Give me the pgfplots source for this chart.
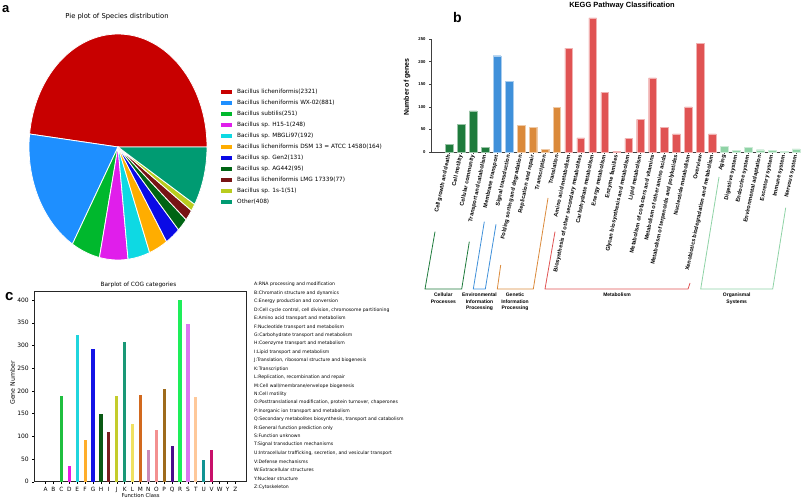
\documentclass[border=0pt]{standalone}
\usepackage{pgfplots}
\pgfplotsset{compat=1.18}
\usepackage{fontspec}
\setmainfont{DejaVu Sans}
\newfontfamily\arial{Liberation Sans}

\newcommand{\fsz}[1]{\fontsize{#1}{#1}\selectfont}

% pie colours
\definecolor{pRed}{HTML}{C80000}
\definecolor{pBlue}{HTML}{1E8FFF}
\definecolor{pGreen}{HTML}{00B82D}
\definecolor{pMag}{HTML}{E01EEB}
\definecolor{pCyan}{HTML}{0ED9E3}
\definecolor{pOrange}{HTML}{FFAD00}
\definecolor{pBlueB}{HTML}{0A0AE6}
\definecolor{pDkGreen}{HTML}{006414}
\definecolor{pMaroon}{HTML}{781414}
\definecolor{pYGreen}{HTML}{B9CC1E}
\definecolor{pOther}{HTML}{009B72}
% KEGG colours
\definecolor{kCell}{HTML}{1E7B3C}
\definecolor{kEnv}{HTML}{3F90DA}
\definecolor{kGen}{HTML}{DB8A3B}
\definecolor{kMet}{HTML}{E05353}
\definecolor{kOrg}{HTML}{8FD3A6}
% COG colours
\definecolor{cC}{HTML}{1FBF3F}
\definecolor{cD}{HTML}{E619E6}
\definecolor{cE}{HTML}{20D5DD}
\definecolor{cF}{HTML}{FFAE2A}
\definecolor{cG}{HTML}{1414E6}
\definecolor{cH}{HTML}{0A5A14}
\definecolor{cI}{HTML}{7A1E1E}
\definecolor{cJ}{HTML}{C4CC2C}
\definecolor{cK}{HTML}{1A9876}
\definecolor{cL}{HTML}{F0E160}
\definecolor{cM}{HTML}{D2691E}
\definecolor{cN}{HTML}{C98BB9}
\definecolor{cO}{HTML}{F39090}
\definecolor{cP}{HTML}{9E6B1D}
\definecolor{cQ}{HTML}{4B0A8C}
\definecolor{cR}{HTML}{1EEE5A}
\definecolor{cS}{HTML}{DC78F0}
\definecolor{cT}{HTML}{FEC89A}
\definecolor{cU}{HTML}{129494}
\definecolor{cV}{HTML}{C8106A}

\pgfplotsset{
  kbar/.style={ybar, bar width=0.64, bar shift=0pt, fill=#1, draw=#1!45!white, line width=0.4pt},
  cbar/.style={ybar, bar width=0.4, bar shift=0pt, fill=#1, draw=none},
}

\begin{document}
\begin{tikzpicture}
\path[use as bounding box] (0,0) rectangle (802pt,-500pt);

%% ---------- a: pie ----------
\begin{scope}[shift={(118pt,-147pt)}]
\def\cum{0}
\foreach \v/\c in {2321/pRed,881/pBlue,251/pGreen,248/pMag,192/pCyan,164/pOrange,131/pBlueB,95/pDkGreen,77/pMaroon,51/pYGreen,408/pOther}{
  \pgfmathsetmacro\a{\cum/4819*360}
  \pgfmathsetmacro\newcum{\cum+\v}
  \pgfmathsetmacro\b{\newcum/4819*360}
  \filldraw[fill=\c, draw=white, line width=0.8pt, line join=round]
    (0,0) -- (\a:89pt and 113pt) arc[start angle=\a, end angle=\b, x radius=89pt, y radius=113pt] -- cycle;
  \global\let\cum\newcum
}
\end{scope}

\begin{scope}[x=1pt,y=-1pt]
\node[anchor=base west, inner sep=0, font=\arial\bfseries\fsz{13}] at (2,13) {a};
\node[font=\fsz{6.8}] at (117,17) {Pie plot of Species distribution};
\foreach \c/\t [count=\i from 0] in {pRed/{Bacillus licheniformis(2321)},
  pBlue/{Bacillus licheniformis WX-02(881)},
  pGreen/{Bacillus subtilis(251)},
  pMag/{Bacillus sp. H15-1(248)},
  pCyan/{Bacillus sp. MBGLi97(192)},
  pOrange/{Bacillus licheniformis DSM 13 = ATCC 14580(164)},
  pBlueB/{Bacillus sp. Gen2(131)},
  pDkGreen/{Bacillus sp. AG442(95)},
  pMaroon/{Bacillus licheniformis LMG 17339(77)},
  pYGreen/{Bacillus sp. 1s-1(51)},
  pOther/{Other(408)}}{
  \fill[\c] (221,{92+11*\i-2.4}) rectangle ++(11,4.8);
  \node[anchor=west, inner sep=0, font=\fsz{5.8}] at (237,{92+11*\i}) {\t};
}
\end{scope}

%% ---------- b: KEGG ----------
\begin{axis}[at={(431pt,-152pt)}, anchor=south west, scale only axis,
  width=369pt, height=113pt,
  xmin=-1.52, xmax=29.33, ymin=0, ymax=250, clip=false,
  axis x line*=bottom, axis y line*=left,
  axis line style={black!75, line width=0.6pt},
  xtick={0,...,29},
  xticklabels={Cell growth and death, Cell motility, Cellular community, Transport and catabolism,
    Membrane transport, Signal transduction,
    Folding sorting and degradation, Replication and repair, Transcription, Translation,
    Amino acid metabolism, Biosynthesis of other secondary metabolites, Carbohydrate metabolism,
    Energy metabolism, Enzyme families, Glycan biosynthesis and metabolism, Lipid metabolism,
    Metabolism of cofactors and vitamins, Metabolism of other amino acids,
    Metabolism of terpenoids and polyketides, Nucleotide metabolism, Overview,
    Xenobiotics biodegradation and metabolism,
    Aging, Digestive system, Endocrine system, Environmental adaptation, Excretory system,
    Immune system, Nervous system},
  ytick={0,50,...,250},
  tick align=outside, major tick length=2pt,
  tick style={black!75, line width=0.5pt},
  /pgf/number format/assume math mode=true,
  yticklabel style={font=\arial\bfseries\fsz{4.2}},
  xticklabel style={font=\arial\bfseries\fsz{5.6}, rotate=78, anchor=east, inner sep=1pt},
]
\addplot[kbar=kCell] coordinates {(0,17) (1,61) (2,91) (3,11)};
\addplot[kbar=kEnv] coordinates {(4,213) (5,157)};
\addplot[kbar=kGen] coordinates {(6,59) (7,55) (8,6) (9,99)};
\addplot[kbar=kMet] coordinates {(10,230) (11,31) (12,297) (13,132) (14,2) (15,30)
  (16,72) (17,164) (18,54) (19,40) (20,100) (21,241) (22,40)};
\addplot[kbar=kOrg] coordinates {(23,12) (24,4) (25,11) (26,5) (27,3) (28,2) (29,7)};
\end{axis}

\begin{scope}[x=1pt,y=-1pt]
\node[anchor=base west, inner sep=0, font=\arial\bfseries\fsz{14}] at (453,23) {b};
\node[font=\arial\bfseries\fsz{7.5}] at (622,5.5) {KEGG Pathway Classification};
\node[rotate=90, font=\arial\bfseries\fsz{7}] at (407,87) {Number of genes};
\draw[kCell, line width=0.8pt] (435,231.7) -- (425,289) -- (461.7,289) -- (469.3,241.7);
\draw[kEnv, line width=0.8pt] (484.3,221.7) -- (473.3,289) -- (485.3,289) -- (496,224.3);
\draw[kGen, line width=0.8pt] (500.7,265) -- (497.3,289) -- (533.3,289) -- (548,198);
\draw[kMet, line width=0.8pt] (555,231.7) -- (545,289) -- (688,289) -- (690,283);
\draw[kOrg, line width=0.8pt] (719,177) -- (700.7,289) -- (772.7,289) -- (785.7,207.7);
\begin{scope}[every node/.style={anchor=north, align=center, inner sep=0,
    font=\arial\bfseries\fontsize{5}{6.4}\selectfont}]
\node at (443.3,293) {Cellular\\Processes};
\node at (479.5,293) {Environmental\\Information\\Processing};
\node at (515,293) {Genetic\\Information\\Processing};
\node at (617,293) {Metabolism};
\node at (736.7,293) {Organismal\\Systems};
\end{scope}
\end{scope}

%% ---------- c: COG ----------
\begin{axis}[at={(34.3pt,-481.7pt)}, anchor=south west, scale only axis,
  width=212.4pt, height=190.8pt,
  xmin=-1.42, xmax=25.42, ymin=0, ymax=420,
  xtick={0,...,24},
  xticklabels={A,B,C,D,E,F,G,H,I,J,K,L,M,N,O,P,Q,R,S,T,U,V,W,Y,Z},
  ytick={0,50,...,400},
  xtick pos=bottom, ytick pos=left,
  tick align=outside, major tick length=2pt,
  tick style={black, line width=0.4pt},
  axis line style={black!85, line width=0.5pt},
  /pgf/number format/assume math mode=true,
  xticklabel style={font=\fsz{5.8}},
  yticklabel style={font=\fsz{6}},
]
\addplot[cbar=black] coordinates {(0,0) (1,0) (22,0) (23,0) (24,0)};
\addplot[cbar=cC] coordinates {(2,188)};
\addplot[cbar=cD] coordinates {(3,34)};
\addplot[cbar=cE] coordinates {(4,323)};
\addplot[cbar=cF] coordinates {(5,92)};
\addplot[cbar=cG] coordinates {(6,292)};
\addplot[cbar=cH] coordinates {(7,148)};
\addplot[cbar=cI] coordinates {(8,109)};
\addplot[cbar=cJ] coordinates {(9,188)};
\addplot[cbar=cK] coordinates {(10,308)};
\addplot[cbar=cL] coordinates {(11,127)};
\addplot[cbar=cM] coordinates {(12,190)};
\addplot[cbar=cN] coordinates {(13,69)};
\addplot[cbar=cO] coordinates {(14,114)};
\addplot[cbar=cP] coordinates {(15,204)};
\addplot[cbar=cQ] coordinates {(16,78)};
\addplot[cbar=cR] coordinates {(17,400)};
\addplot[cbar=cS] coordinates {(18,347)};
\addplot[cbar=cT] coordinates {(19,186)};
\addplot[cbar=cU] coordinates {(20,48)};
\addplot[cbar=cV] coordinates {(21,70)};
\end{axis}

\begin{scope}[x=1pt,y=-1pt]
\node[anchor=base west, inner sep=0, font=\arial\bfseries\fsz{15}] at (5,300) {c};
\node[font=\fsz{5.8}] at (138.5,285) {Barplot of COG categories};
\node[font=\fsz{5.3}] at (140.6,496) {Function Class};
\node[rotate=90, font=\fsz{6.2}] at (12.5,383) {Gene Number};
\foreach \t [count=\i from 0] in {{A:RNA processing and modification},
  {B:Chromatin structure and dynamics},
  {C:Energy production and conversion},
  {D:Cell cycle control, cell division, chromosome partitioning},
  {E:Amino acid transport and metabolism},
  {F:Nucleotide transport and metabolism},
  {G:Carbohydrate transport and metabolism},
  {H:Coenzyme transport and metabolism},
  {I:Lipid transport and metabolism},
  {J:Translation, ribosomal structure and biogenesis},
  {K:Transcription},
  {L:Replication, recombination and repair},
  {M:Cell wall/membrane/envelope biogenesis},
  {N:Cell motility},
  {O:Posttranslational modification, protein turnover, chaperones},
  {P:Inorganic ion transport and metabolism},
  {Q:Secondary metabolites biosynthesis, transport and catabolism},
  {R:General function prediction only},
  {S:Function unknown},
  {T:Signal transduction mechanisms},
  {U:Intracellular trafficking, secretion, and vesicular transport},
  {V:Defense mechanisms},
  {W:Extracellular structures},
  {Y:Nuclear structure},
  {Z:Cytoskeleton}}{
  \node[anchor=west, inner sep=0, font=\fsz{4.6}] at (254,{284.7+8.42*\i}) {\t};
}
\end{scope}
\end{tikzpicture}
\end{document}
